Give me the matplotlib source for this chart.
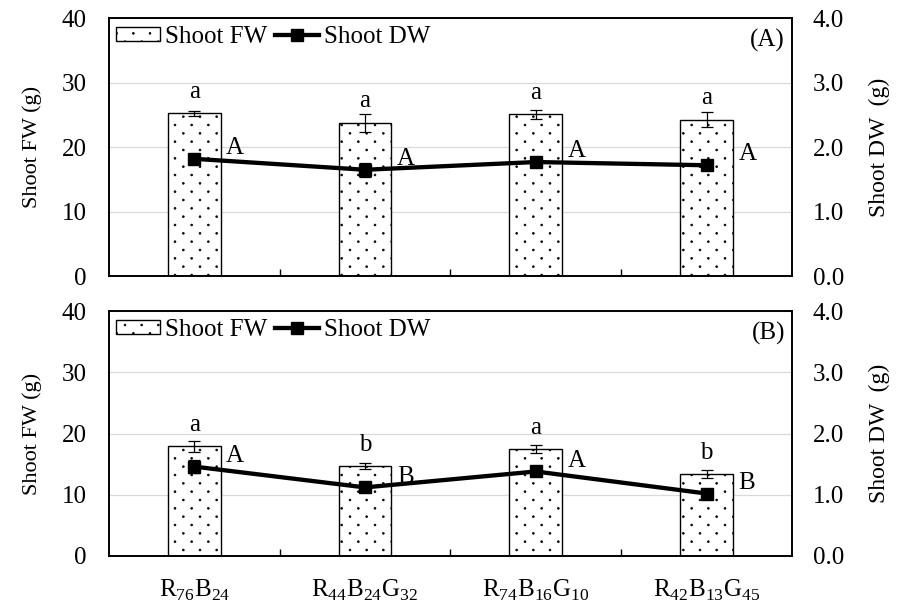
import numpy as np
import matplotlib
matplotlib.use("Agg")
import matplotlib.pyplot as plt
import matplotlib.hatch as mhatch
from matplotlib.ticker import FormatStrFormatter, FixedLocator

# ---- data -------------------------------------------------------------
treatments = [r"R$_\mathregular{76}$B$_\mathregular{24}$",
              r"R$_\mathregular{44}$B$_\mathregular{24}$G$_\mathregular{32}$",
              r"R$_\mathregular{74}$B$_\mathregular{16}$G$_\mathregular{10}$",
              r"R$_\mathregular{42}$B$_\mathregular{13}$G$_\mathregular{45}$"]

fw_a = [25.3, 23.8, 25.1, 24.3]
fw_a_err = [0.4, 1.4, 0.65, 1.2]
dw_a = [1.82, 1.65, 1.77, 1.72]
dw_a_err = [0.05, 0.11, 0.05, 0.07]
fw_a_letters = ["a", "a", "a", "a"]
dw_a_letters = ["A", "A", "A", "A"]

fw_b = [17.9, 14.7, 17.5, 13.4]
fw_b_err = [0.9, 0.55, 0.6, 0.6]
dw_b = [1.46, 1.12, 1.38, 1.02]
dw_b_err = [0.10, 0.05, 0.05, 0.05]
fw_b_letters = ["a", "b", "a", "b"]
dw_b_letters = ["A", "B", "A", "B"]

panel_names = ["(A)", "(B)"]


# ---- staggered dot fill for the bars -----------------------------------
class StaggeredDots(mhatch.SmallFilledCircles):
    """Small dots, rows twice as close as columns, alternate rows offset."""
    size = 0.055

    def __init__(self, hatch, density):
        super().__init__(hatch, density)
        n = hatch.count(".") * density
        self.cols = n
        self.rows = 2 * n
        self.num_shapes = ((n + 1) * (n + 1) + n * n) if n else 0
        self.num_vertices = self.num_shapes * len(self.shape_vertices)

    def set_vertices_and_codes(self, vertices, codes):
        step = 1.0 / self.cols
        shape = self.shape_vertices * step * self.size
        parts = []
        for row in range(self.rows + 1):
            if row % 2 == 0:
                xs = np.linspace(0, 1, self.cols + 1)
            else:
                xs = np.linspace(step / 2, 1 - step / 2, self.cols)
            for x in xs:
                parts.append(shape + [x, row / self.rows])
        np.concatenate(parts, out=vertices)
        codes[:] = np.tile(self.shape_codes, self.num_shapes)


mhatch._hatch_types = [StaggeredDots if t is mhatch.SmallFilledCircles else t
                       for t in mhatch._hatch_types]

# ---- style --------------------------------------------------------------
plt.rcParams["font.family"] = ["Liberation Serif", "DejaVu Serif"]
plt.rcParams["mathtext.fontset"] = "custom"
plt.rcParams["mathtext.rm"] = "Liberation Serif"
plt.rcParams["font.size"] = 18
plt.rcParams["hatch.linewidth"] = 0.5
plt.rcParams["hatch.color"] = "black"

fig = plt.figure(figsize=(9.03, 6.04), dpi=100)
positions = [[0.1205, 0.543, 0.7565, 0.4265],
             [0.1205, 0.0795, 0.7565, 0.4055]]

panels = [
    (fw_a, fw_a_err, dw_a, dw_a_err, fw_a_letters, dw_a_letters),
    (fw_b, fw_b_err, dw_b, dw_b_err, fw_b_letters, dw_b_letters),
]

x = np.arange(len(treatments))

for k, (fw, fw_err, dw, dw_err, fw_let, dw_let) in enumerate(panels):
    ax = fig.add_axes(positions[k])
    ax2 = ax.twinx()

    bars = ax.bar(x, fw, width=0.31, color="white", edgecolor="black",
                  linewidth=1.0, hatch=".", label="Shoot FW", zorder=2)
    ax.errorbar(x, fw, yerr=fw_err, fmt="none", ecolor="black",
                elinewidth=0.9, capsize=4, capthick=0.9, zorder=3)

    ax2.errorbar(x, dw, yerr=dw_err, fmt="none", ecolor="black",
                 elinewidth=0.9, capsize=4, capthick=0.9, zorder=2)
    line, = ax2.plot(x, dw, color="black", linewidth=3.1, marker="s",
                     markersize=8.4, label="Shoot DW", zorder=3)

    ax.set_xlim(-0.5, len(treatments) - 0.5)
    ax.set_ylim(0, 40)
    ax.set_yticks([0, 10, 20, 30, 40])
    ax2.set_ylim(0, 4)
    ax2.set_yticks([0, 1, 2, 3, 4])
    ax2.yaxis.set_major_formatter(FormatStrFormatter("%.1f"))

    ax.set_axisbelow(True)
    ax.yaxis.grid(True, color="#d9d9d9", linewidth=0.9)

    ax.set_xticks(x)
    if k == 1:
        ax.set_xticklabels(treatments)
    else:
        ax.set_xticklabels([])
    ax.xaxis.set_minor_locator(FixedLocator(x[:-1] + 0.5))
    ax.tick_params(axis="x", which="major", length=0, pad=16)
    ax.tick_params(axis="x", which="minor", direction="in", length=5,
                   width=1.0, color="black")
    ax.tick_params(axis="y", length=0, pad=16)
    ax2.tick_params(axis="y", length=0, pad=15)

    for side in ["left", "right", "top", "bottom"]:
        ax.spines[side].set_linewidth(1.2)
        ax2.spines[side].set_linewidth(1.2)

    ax.set_ylabel("Shoot FW (g)", fontsize=16, labelpad=14)
    ax2.set_ylabel("Shoot DW  (g)", fontsize=17, labelpad=18)

    for i in range(len(x)):
        ax.annotate(fw_let[i], (x[i], fw[i]), xytext=(0, 11),
                    textcoords="offset points", ha="center", va="baseline")
        ax2.annotate(dw_let[i], (x[i], dw[i]), xytext=(23, 3.5),
                     textcoords="offset points", ha="left", va="baseline")

    ax2.legend([bars, line], ["Shoot FW", "Shoot DW"], loc="upper left",
               bbox_to_anchor=(0, 1), borderaxespad=0.0, borderpad=0.3,
               frameon=False, ncol=2, handlelength=1.75, handleheight=0.5,
               handletextpad=0.2, columnspacing=0.3)

    ax2.annotate(panel_names[k], (1, 1), xycoords="axes fraction",
                 xytext=(-5, -16), textcoords="offset points",
                 ha="right", va="center")

fig.savefig("out.png", dpi=100)
